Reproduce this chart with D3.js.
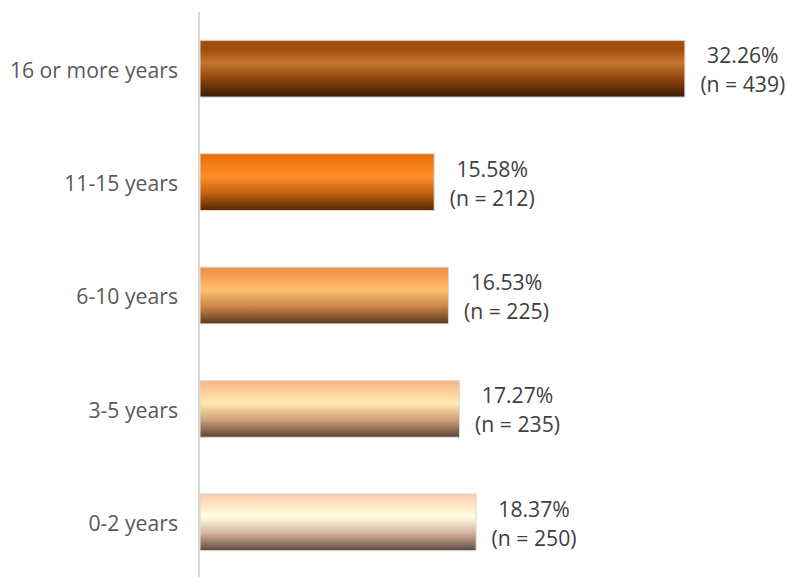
<!DOCTYPE html>
<html><head><meta charset="utf-8">
<script src="https://cdn.jsdelivr.net/npm/d3@7"></script>
<style>body{margin:0;background:#fff}svg{display:block}</style>
</head><body>
<script>
const categories = ["16 or more years","11-15 years","6-10 years","3-5 years","0-2 years"];
const percents = [32.26, 15.58, 16.53, 17.27, 18.37];
const counts = [439, 212, 225, 235, 250];
const gradStops = [
  ["#a9520e","#a04c0a","#c67631","#8a420c","#3a1a05"],
  ["#e66d0f","#f07814","#ff8f2c","#c0600e","#552605"],
  ["#f0924a","#f59c4c","#ffc170","#c98446","#5a3a1c"],
  ["#f8b888","#fcc898","#ffe9b0","#cf9e78","#5b4434"],
  ["#fccaa8","#ffe0c0","#ffffe0","#d2b09a","#5a4a40"]
];
const W = 787, H = 577;
const svg = d3.select("body").append("svg").attr("width", W).attr("height", H);
const m = {left: 200, top: 12, bottom: 0};
const x = d3.scaleLinear().domain([0, 35]).range([m.left, m.left + 35 * 15.03]);
const y = d3.scaleBand().domain(categories).range([m.top, 579]).paddingInner(0.5).paddingOuter(0.25);

const defs = svg.append("defs");
gradStops.forEach((s, i) => {
  const g = defs.append("linearGradient").attr("id", "g" + i).attr("x1", 0).attr("x2", 0).attr("y1", 0).attr("y2", 1);
  [0, 0.15, 0.4, 0.7, 1].forEach((o, j) => g.append("stop").attr("offset", o).attr("stop-color", s[j]));
});

svg.append("line").attr("x1", 199).attr("x2", 199).attr("y1", 12).attr("y2", 577)
  .attr("stroke", "#d9d9d9").attr("stroke-width", 2);

svg.selectAll("rect.bar").data(categories).join("rect").attr("class", "bar")
  .attr("x", x(0)).attr("y", d => y(d))
  .attr("width", (d, i) => x(percents[i]) - x(0)).attr("height", y.bandwidth())
  .attr("fill", (d, i) => `url(#g${i})`)
  .attr("stroke", "#e0d8d0").attr("stroke-width", 1);

const font = "'Open Sans', Lato, sans-serif";
const fs = 21.2;
svg.selectAll("text.cat").data(categories).join("text").attr("class", "cat")
  .attr("x", 178).attr("y", d => y(d) + y.bandwidth() / 2 + 1.5).attr("dy", "0.35em")
  .attr("text-anchor", "end").attr("font-family", font).attr("font-size", fs).attr("fill", "#595959")
  .text(d => d);

const lab = svg.selectAll("g.lab").data(categories).join("g").attr("class", "lab");
lab.append("text").attr("x", (d, i) => x(percents[i]) + 58).attr("y", d => y(d) + y.bandwidth() / 2 - 13)
  .attr("dy", "0.35em").attr("text-anchor", "middle").attr("font-family", font).attr("font-size", fs).attr("fill", "#404040")
  .text((d, i) => percents[i].toFixed(2) + "%");
lab.append("text").attr("x", (d, i) => x(percents[i]) + 58).attr("y", d => y(d) + y.bandwidth() / 2 + 16)
  .attr("dy", "0.35em").attr("text-anchor", "middle").attr("font-family", font).attr("font-size", fs).attr("fill", "#404040")
  .text((d, i) => "(n = " + counts[i] + ")");
</script>
</body></html>
